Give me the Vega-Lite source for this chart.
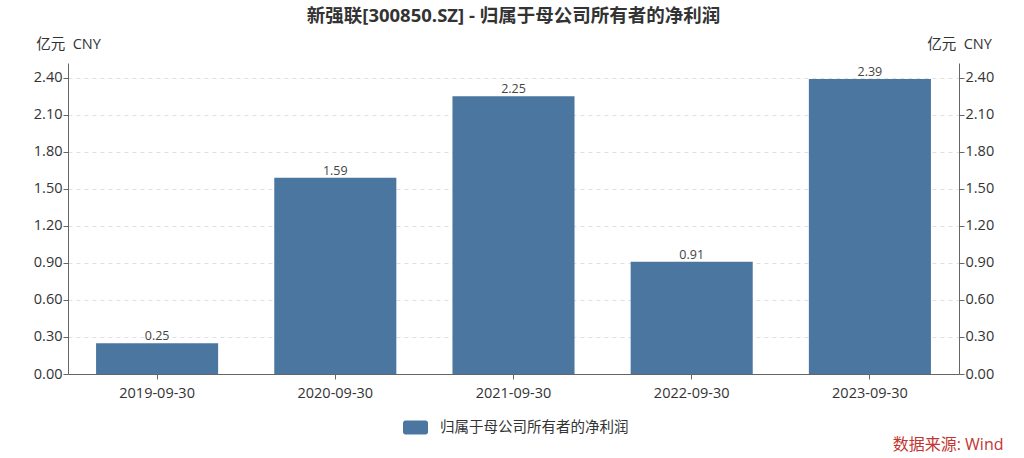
{
  "$schema": "https://vega.github.io/schema/vega-lite/v6.json",
  "autosize": "none",
  "width": 891,
  "height": 311,
  "padding": {"left": 68, "top": 63, "right": 65, "bottom": 84},
  "background": "#ffffff",
  "config": {
    "font": "Open Sans, Noto Sans CJK SC",
    "view": {"stroke": null}
  },
  "title": {
    "text": "新强联[300850.SZ] - 归属于母公司所有者的净利润",
    "fontSize": 18.5,
    "fontWeight": "bold",
    "color": "#333333",
    "anchor": "middle",
    "offset": 11,
    "font": "Open Sans, Noto Sans CJK SC"
  },
  "data": {
    "values": [
      {"date": "2019-09-30", "value": 0.25, "series": "归属于母公司所有者的净利润"},
      {"date": "2020-09-30", "value": 1.59, "series": "归属于母公司所有者的净利润"},
      {"date": "2021-09-30", "value": 2.25, "series": "归属于母公司所有者的净利润"},
      {"date": "2022-09-30", "value": 0.91, "series": "归属于母公司所有者的净利润"},
      {"date": "2023-09-30", "value": 2.39, "series": "归属于母公司所有者的净利润"}
    ]
  },
  "encoding": {
    "x": {
      "field": "date",
      "type": "nominal",
      "scale": {"paddingInner": 0.315, "paddingOuter": 0.1575},
      "axis": {
        "labelAngle": 0,
        "labelFontSize": 14.5,
        "labelColor": "#333333",
        "labelPadding": 7,
        "domainColor": "#666666",
        "tickColor": "#666666",
        "tickSize": 5,
        "grid": false,
        "title": "数据来源: Wind",
        "titleColor": "#c23531",
        "titleFontSize": 16,
        "titleFontWeight": "normal",
        "titleAnchor": "end",
        "titleAlign": "right",
        "titleBaseline": "middle",
        "titleX": 935,
        "titleY": 70
      }
    },
    "y": {
      "field": "value",
      "type": "quantitative",
      "scale": {"domain": [0, 2.52], "nice": false, "zero": true}
    }
  },
  "layer": [
    {
      "mark": {"type": "bar", "color": "#4a76a0"},
      "encoding": {
        "color": {
          "field": "series",
          "type": "nominal",
          "scale": {"range": ["#4a76a0"]},
          "legend": {
            "orient": "none",
            "legendX": 335,
            "legendY": 352,
            "title": null,
            "labelFontSize": 14.5,
            "labelColor": "#333333",
            "labelLimit": 0,
            "symbolType": "M-0.8,-0.56 L0.8,-0.56 A0.2,0.2 0 0 1 1,-0.36 L1,0.36 A0.2,0.2 0 0 1 0.8,0.56 L-0.8,0.56 A0.2,0.2 0 0 1 -1,0.36 L-1,-0.36 A0.2,0.2 0 0 1 -0.8,-0.56 Z",
            "symbolSize": 625,
            "symbolStrokeWidth": 0,
            "symbolOpacity": 1,
            "labelOffset": 12
          }
        },
        "y": {
          "field": "value",
          "type": "quantitative",
          "axis": {
            "orient": "left",
            "values": [0, 0.3, 0.6, 0.9, 1.2, 1.5, 1.8, 2.1, 2.4],
            "format": ".2f",
            "labelFontSize": 14.5,
            "labelColor": "#333333",
            "labelPadding": 1,
            "domainColor": "#666666",
            "tickColor": "#666666",
            "tickSize": 5,
            "grid": true,
            "gridColor": "#e0e0e0",
            "gridDash": [4, 4],
            "title": "亿元\u00a0\u00a0CNY",
            "titleAngle": 0,
            "titleFontSize": 14.5,
            "titleFontWeight": "normal",
            "titleColor": "#333333",
            "titleAlign": "center",
            "titleBaseline": "middle",
            "titleX": 0,
            "titleY": -19
          }
        }
      }
    },
    {
      "mark": {"type": "text", "dy": -7, "fontSize": 12.5, "color": "#444444"},
      "encoding": {
        "text": {"field": "value", "type": "quantitative", "format": ".2f"},
        "y": {
          "field": "value",
          "type": "quantitative",
          "axis": {
            "orient": "right",
            "values": [0, 0.3, 0.6, 0.9, 1.2, 1.5, 1.8, 2.1, 2.4],
            "format": ".2f",
            "labelFontSize": 14.5,
            "labelColor": "#333333",
            "labelPadding": 1,
            "domainColor": "#666666",
            "tickColor": "#666666",
            "tickSize": 5,
            "grid": false,
            "title": "亿元\u00a0\u00a0CNY",
            "titleAngle": 0,
            "titleFontSize": 14.5,
            "titleFontWeight": "normal",
            "titleColor": "#333333",
            "titleAlign": "center",
            "titleBaseline": "middle",
            "titleX": 0,
            "titleY": -19
          }
        }
      }
    }
  ],
  "resolve": {"axis": {"y": "independent"}}
}
